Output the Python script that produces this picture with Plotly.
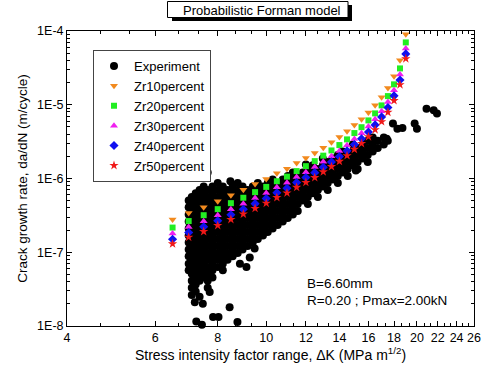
import plotly.graph_objects as go

# ---------------- data ----------------
dk_model = [6.5, 7.0, 7.5, 8.0, 8.5, 9.0, 9.5, 10.0, 10.5, 11.0, 11.5, 12.0, 12.5,
            13.0, 13.5, 14.0, 14.5, 15.0, 15.5, 16.0, 16.5, 17.0, 17.5, 18.0, 18.5, 19.0]
zr10 = [2.77e-7, 3.41e-7, 4.09e-7, 4.93e-7, 5.95e-7, 7.05e-7, 8.39e-7, 9.88e-7, 1.18e-6,
        1.36e-6, 1.62e-6, 1.89e-6, 2.21e-6, 2.62e-6, 3.09e-6, 3.65e-6, 4.36e-6, 5.31e-6,
        6.38e-6, 7.88e-6, 9.81e-6, 1.26e-5, 1.69e-5, 2.43e-5, 4.0e-5, 9.0e-5]
zr20 = [2.16e-7, 2.65e-7, 3.18e-7, 3.84e-7, 4.63e-7, 5.48e-7, 6.53e-7, 7.69e-7, 9.18e-7,
        1.06e-6, 1.26e-6, 1.47e-6, 1.72e-6, 2.04e-6, 2.40e-6, 2.84e-6, 3.39e-6, 4.13e-6,
        4.96e-6, 6.13e-6, 7.63e-6, 9.80e-6, 1.31e-5, 1.89e-5, 3.11e-5, 7.0e-5]
zr30 = [1.79e-7, 2.20e-7, 2.64e-7, 3.18e-7, 3.84e-7, 4.55e-7, 5.42e-7, 6.38e-7, 7.62e-7,
        8.79e-7, 1.05e-6, 1.22e-6, 1.43e-6, 1.69e-6, 2.00e-6, 2.36e-6, 2.82e-6, 3.43e-6,
        4.12e-6, 5.09e-6, 6.34e-6, 8.14e-6, 1.09e-5, 1.57e-5, 2.58e-5, 5.81e-5]
zr40 = [1.50e-7, 1.85e-7, 2.22e-7, 2.68e-7, 3.23e-7, 3.83e-7, 4.56e-7, 5.36e-7, 6.41e-7,
        7.38e-7, 8.80e-7, 1.03e-6, 1.20e-6, 1.42e-6, 1.68e-6, 1.98e-6, 2.37e-6, 2.88e-6,
        3.46e-6, 4.28e-6, 5.33e-6, 6.84e-6, 9.18e-6, 1.32e-5, 2.17e-5, 4.89e-5]
zr50 = [1.30e-7, 1.60e-7, 1.91e-7, 2.31e-7, 2.78e-7, 3.30e-7, 3.93e-7, 4.62e-7, 5.52e-7,
        6.36e-7, 7.58e-7, 8.85e-7, 1.03e-6, 1.23e-6, 1.45e-6, 1.71e-6, 2.04e-6, 2.49e-6,
        2.99e-6, 3.69e-6, 4.59e-6, 5.90e-6, 7.91e-6, 1.14e-5, 1.87e-5, 4.21e-5]

# experiment: measured rates grouped by stress intensity factor range
exp_dk = [7.00, 7.10, 7.23, 7.36, 7.50, 7.64, 7.81, 8.00, 8.19, 8.37, 8.57, 8.77, 8.97,
          9.18, 9.40, 9.62, 9.85, 10.07, 10.30, 10.54, 10.79, 11.04, 11.30, 11.56, 11.83,
          12.11, 12.39, 12.68, 12.97, 13.27, 13.58, 13.90, 14.22, 14.55, 14.89, 15.23,
          15.59, 15.95, 16.32, 16.70, 17.17, 17.49]
exp_dadn = [
    [5.05e-7, 4.06e-7, 3.26e-7, 2.62e-7, 2.10e-7, 1.69e-7, 1.36e-7, 1.09e-7, 8.8e-8, 7.0e-8, 5.7e-8],
    [5.6e-7, 4.5e-7, 3.63e-7, 2.92e-7, 2.35e-7, 1.88e-7, 1.51e-7, 1.22e-7, 9.8e-8, 7.9e-8, 6.3e-8, 5.1e-8, 4.1e-8, 3.3e-8, 2.64e-8],
    [6.3e-7, 5.05e-7, 4.06e-7, 3.26e-7, 2.62e-7, 2.10e-7, 1.69e-7, 1.36e-7, 1.09e-7, 8.8e-8, 7.0e-8, 5.7e-8, 4.55e-8, 3.66e-8, 2.94e-8],
    [7.0e-7, 5.6e-7, 4.5e-7, 3.63e-7, 2.92e-7, 2.35e-7, 1.88e-7, 1.51e-7, 1.22e-7, 9.8e-8, 7.9e-8, 6.3e-8, 5.1e-8, 4.1e-8],
    [7.8e-7, 6.3e-7, 5.05e-7, 4.06e-7, 3.26e-7, 2.62e-7, 2.10e-7, 1.69e-7, 1.36e-7, 1.09e-7, 8.8e-8, 7.0e-8, 5.7e-8, 4.55e-8],
    [7.0e-7, 5.6e-7, 4.5e-7, 3.63e-7, 2.92e-7, 2.35e-7, 1.88e-7, 1.51e-7, 1.22e-7, 9.8e-8, 7.9e-8, 6.3e-8, 5.1e-8, 4.1e-8, 3.3e-8],
    [7.8e-7, 6.3e-7, 5.05e-7, 4.06e-7, 3.26e-7, 2.62e-7, 2.10e-7, 1.69e-7, 1.36e-7, 1.09e-7, 8.8e-8, 7.0e-8, 5.7e-8, 4.55e-8],
    [8.7e-7, 7.0e-7, 5.6e-7, 4.5e-7, 3.63e-7, 2.92e-7, 2.35e-7, 1.88e-7, 1.51e-7, 1.22e-7, 9.8e-8, 7.9e-8, 6.3e-8],
    [7.8e-7, 6.3e-7, 5.05e-7, 4.06e-7, 3.26e-7, 2.62e-7, 2.10e-7, 1.69e-7, 1.36e-7, 1.09e-7, 8.8e-8, 7.0e-8, 5.7e-8],
    [7.0e-7, 5.6e-7, 4.5e-7, 3.63e-7, 2.92e-7, 2.35e-7, 1.88e-7, 1.51e-7, 1.22e-7, 9.8e-8, 7.9e-8],
    [7.8e-7, 6.3e-7, 5.05e-7, 4.06e-7, 3.26e-7, 2.62e-7, 2.10e-7, 1.69e-7, 1.36e-7, 1.09e-7, 8.8e-8],
    [8.7e-7, 7.0e-7, 5.6e-7, 4.5e-7, 3.63e-7, 2.92e-7, 2.35e-7, 1.88e-7, 1.51e-7, 1.22e-7, 9.8e-8],
    [7.8e-7, 6.3e-7, 5.05e-7, 4.06e-7, 3.26e-7, 2.62e-7, 2.10e-7, 1.69e-7, 1.36e-7, 1.09e-7],
    [7.0e-7, 5.6e-7, 4.5e-7, 3.63e-7, 2.92e-7, 2.35e-7, 1.88e-7, 1.51e-7, 1.22e-7],
    [7.8e-7, 6.3e-7, 5.05e-7, 4.06e-7, 3.26e-7, 2.62e-7, 2.10e-7, 1.69e-7, 1.36e-7],
    [8.7e-7, 7.0e-7, 5.6e-7, 4.5e-7, 3.63e-7, 2.92e-7, 2.35e-7, 1.88e-7, 1.51e-7],
    [7.8e-7, 6.3e-7, 5.05e-7, 4.06e-7, 3.26e-7, 2.62e-7, 2.10e-7, 1.69e-7],
    [8.7e-7, 7.0e-7, 5.6e-7, 4.5e-7, 3.63e-7, 2.92e-7, 2.35e-7, 1.88e-7],
    [9.7e-7, 7.8e-7, 6.3e-7, 5.05e-7, 4.06e-7, 3.26e-7, 2.62e-7, 2.10e-7],
    [8.7e-7, 7.0e-7, 5.6e-7, 4.5e-7, 3.63e-7, 2.92e-7, 2.35e-7],
    [9.7e-7, 7.8e-7, 6.3e-7, 5.05e-7, 4.06e-7, 3.26e-7, 2.62e-7],
    [1.08e-6, 8.7e-7, 7.0e-7, 5.6e-7, 4.5e-7, 3.63e-7, 2.92e-7],
    [1.21e-6, 9.7e-7, 7.8e-7, 6.3e-7, 5.05e-7, 4.06e-7, 3.26e-7],
    [1.08e-6, 8.7e-7, 7.0e-7, 5.6e-7, 4.5e-7, 3.63e-7],
    [1.21e-6, 9.7e-7, 7.8e-7, 6.3e-7, 5.05e-7],
    [1.35e-6, 1.08e-6, 8.7e-7, 7.0e-7, 5.6e-7, 4.5e-7],
    [1.51e-6, 1.21e-6, 9.7e-7, 7.8e-7, 6.3e-7],
    [1.35e-6, 1.08e-6, 8.7e-7, 7.0e-7, 5.6e-7],
    [1.87e-6, 1.51e-6, 1.21e-6, 9.7e-7, 7.8e-7],
    [1.68e-6, 1.35e-6, 1.08e-6, 8.7e-7, 7.0e-7],
    [1.87e-6, 1.51e-6, 1.21e-6, 9.7e-7],
    [2.09e-6, 1.68e-6, 1.35e-6, 1.08e-6, 8.7e-7],
    [2.33e-6, 1.87e-6, 1.51e-6, 1.21e-6],
    [2.09e-6, 1.68e-6, 1.35e-6, 1.08e-6],
    [2.90e-6, 2.33e-6, 1.87e-6, 1.51e-6],
    [2.60e-6, 2.09e-6, 1.68e-6, 1.35e-6],
    [2.90e-6, 2.33e-6, 1.87e-6],
    [3.24e-6, 2.60e-6, 2.09e-6, 1.68e-6],
    [3.61e-6, 2.90e-6, 2.33e-6],
    [3.24e-6, 2.60e-6],
    [3.61e-6, 2.90e-6],
    [3.24e-6],
]
# isolated experimental points
exp_extra_dk = [7.25, 7.44, 7.36, 7.47, 7.20, 7.71, 7.83, 8.03, 8.06, 8.45, 8.76, 8.86, 9.13,
                9.48, 9.27, 7.64, 8.48, 12.0, 15.1, 17.4, 17.91, 18.28, 18.71, 19.79, 20.0,
                20.9, 21.6, 21.93]
exp_extra_dadn = [1.15e-8, 1.04e-8, 2.5e-8, 2.0e-8, 2.1e-8, 2.9e-8, 1.32e-8, 1.32e-8, 0.99e-8,
                  1.8e-8, 1.13e-8, 7.0e-8, 6.3e-8, 1.12e-7, 8.5e-8, 1.21e-6, 9.2e-7, 1.55e-6,
                  1.28e-6, 3.45e-6, 5.55e-6, 4.74e-6, 4.83e-6, 5.55e-6, 4.74e-6, 8.85e-6,
                  8.4e-6, 7.6e-6]

x_tick_vals = [4, 6, 8, 10, 12, 14, 16, 18, 20, 22, 24, 26]
x_minor_vals = [4.67, 5.33, 6.67, 7.33, 8.67, 9.33, 10.67, 11.33, 12.67, 13.33, 14.67, 15.33,
                16.67, 17.33, 18.67, 19.33, 20.67, 21.33, 22.67, 23.33, 24.67, 25.33]
y_tick_vals = [1e-8, 1e-7, 1e-6, 1e-5, 1e-4]
y_tick_text = ["1E-8", "1E-7", "1E-6", "1E-5", "1E-4"]
y_minor_vals = [m * 10.0 ** e for e in range(-8, -4) for m in range(2, 10)]

# ---------------- figure ----------------
FONT = "Liberation Sans, Arial, sans-serif"
W, H = 487, 384
L, R, T, B = 67, 13, 31, 58


def px_x(p):
    return (p - L) / (W - L - R)


def px_y(p):
    return 1 - (p - T) / (H - T - B)


ex_x, ex_y = [], []
for k, col in zip(exp_dk, exp_dadn):
    for v in col:
        ex_x.append(k)
        ex_y.append(v)
ex_x += exp_extra_dk
ex_y += exp_extra_dadn

fig = go.Figure()
fig.add_trace(go.Scatter(x=ex_x, y=ex_y, mode="markers", name="Experiment",
                         marker=dict(color="black", size=8, line=dict(width=0)),
                         cliponaxis=False))
series = [
    ("Zr10percent", zr10, "triangle-down", "#F28A1E", 7),
    ("Zr20percent", zr20, "square", "#22EE22", 6),
    ("Zr30percent", zr30, "triangle-up", "#F020F0", 7),
    ("Zr40percent", zr40, "diamond", "#1010F0", 7),
    ("Zr50percent", zr50, "star", "#F01818", 7),
]
for name, vals, sym, colr, sz in series:
    fig.add_trace(go.Scatter(x=dk_model, y=vals, mode="markers", name=name,
                             marker=dict(symbol=sym, color=colr, size=sz, line=dict(width=0))))

axis_common = dict(showline=True, linecolor="black", linewidth=1, mirror="allticks",
                   ticks="inside", ticklen=5, tickcolor="black", showgrid=False,
                   zeroline=False, tickfont=dict(family=FONT, size=12.5, color="black"))

fig.update_xaxes(type="log", range=[0.60206, 1.41497], tickmode="array",
                 tickvals=x_tick_vals, ticktext=[str(v) for v in x_tick_vals],
                 minor=dict(tickmode="array", tickvals=x_minor_vals, ticks="inside",
                            ticklen=3, tickcolor="black"),
                 title=dict(text="Stress intensity factor range, ΔK (MPa m<sup>1/2</sup>)",
                            font=dict(family=FONT, size=14, color="black"), standoff=5),
                 **axis_common)
fig.update_yaxes(type="log", range=[-8, -4], tickmode="array",
                 tickvals=y_tick_vals, ticktext=y_tick_text,
                 minor=dict(tickmode="array", tickvals=y_minor_vals, ticks="inside",
                            ticklen=3, tickcolor="black"),
                 title=dict(text="Crack growth rate, da/dN (m/cycle)",
                            font=dict(family=FONT, size=13.5, color="black"), standoff=6),
                 **axis_common)

shapes = [
    dict(type="rect", xref="paper", yref="paper", x0=px_x(172), x1=px_x(352),
         y0=px_y(21), y1=px_y(5), fillcolor="black", line=dict(width=0), layer="above"),
    dict(type="rect", xref="paper", yref="paper", x0=px_x(167.5), x1=px_x(348),
         y0=px_y(17.5), y1=px_y(1.5), fillcolor="white",
         line=dict(color="black", width=1), layer="above"),
]
annotations = [
    dict(text="Probabilistic Forman model", xref="paper", yref="paper",
         x=px_x(262), y=px_y(10), xanchor="center", yanchor="middle", showarrow=False,
         font=dict(family=FONT, size=13, color="black")),
    dict(text="B=6.60mm", xref="paper", yref="paper", x=px_x(305), y=px_y(283),
         xanchor="left", yanchor="middle", showarrow=False,
         font=dict(family=FONT, size=13.5, color="black")),
    dict(text="R=0.20 ; Pmax=2.00kN", xref="paper", yref="paper", x=px_x(305), y=px_y(300),
         xanchor="left", yanchor="middle", showarrow=False,
         font=dict(family=FONT, size=13.5, color="black")),
]

fig.update_layout(
    width=W, height=H, margin=dict(l=L, r=R, t=T, b=B, autoexpand=False),
    paper_bgcolor="white", plot_bgcolor="white",
    font=dict(family=FONT, color="black"),
    showlegend=True,
    legend=dict(x=px_x(93), y=px_y(50), xanchor="left", yanchor="top",
                bgcolor="white", bordercolor="#444444", borderwidth=1,
                font=dict(family=FONT, size=13, color="black"),
                itemsizing="trace"),
    shapes=shapes, annotations=annotations,
)

fig.write_html("out.html")
